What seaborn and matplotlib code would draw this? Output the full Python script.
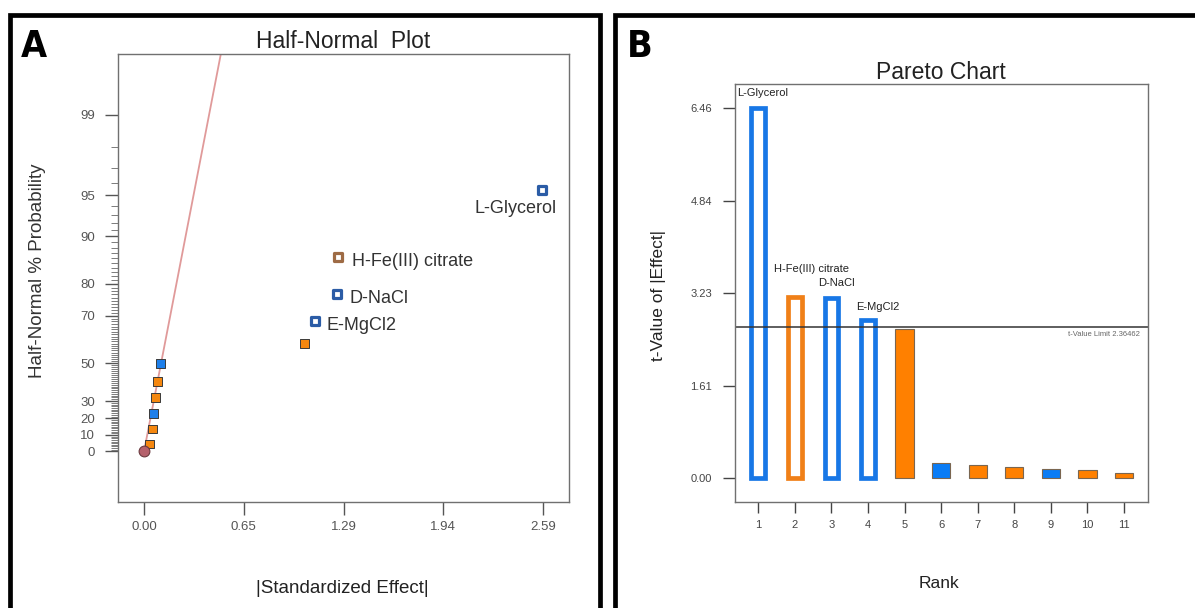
import numpy as np
import pandas as pd
import matplotlib
matplotlib.use("Agg")
import matplotlib.pyplot as plt
from matplotlib.patches import Rectangle
import seaborn as sns
from statistics import NormalDist

# effects listed in Pareto rank order
ranks = ["1", "2", "3", "4", "5", "6", "7", "8", "9", "10", "11"]
term_labels = ["L-Glycerol", "H-Fe(III) citrate", "D-NaCl", "E-MgCl2", "", "", "", "", "", "", ""]
t_values = [6.46, 3.16, 3.15, 2.76, 2.60, 0.27, 0.23, 0.19, 0.17, 0.15, 0.10]
std_effects = [2.583, 1.262, 1.252, 1.108, 1.040, 0.109, 0.089, 0.072, 0.064, 0.055, 0.035]
half_normal_prob = [95.45, 86.36, 77.27, 68.18, 59.09, 50.00, 40.91, 31.82, 22.73, 13.64, 4.55]
effect_sign = ["neg", "pos", "neg", "neg", "pos", "neg", "pos", "pos", "neg", "pos", "pos"]
selected = [True, True, True, True, False, False, False, False, False, False, False]

# error estimate point and fitted line slope
error_effect = [0.0]
error_prob = [0.0]
fit_sigma = 0.164

# axis ticks
hn_yticks = [0, 10, 20, 30, 50, 70, 80, 90, 95, 99]
hn_xticks = [0.0, 0.6475, 1.295, 1.9425, 2.59]
hn_xticklabels = ["0.00", "0.65", "1.29", "1.94", "2.59"]
pareto_yticks = [0.0, 1.615, 3.23, 4.845, 6.46]
pareto_yticklabels = ["0.00", "1.61", "3.23", "4.84", "6.46"]
t_limit_drawn = 2.635
t_limit_label = "t-Value Limit 2.36462"

W, H = 1195, 608

sns.set_theme(style="ticks")
plt.rcParams["font.family"] = ["Liberation Sans", "DejaVu Sans"]

nd = NormalDist()


def p_to_q(p):
    # half-normal probability (%) -> normal quantile
    p = np.clip(np.asarray(p, dtype=float), -99.9999, 99.9999)
    return np.vectorize(lambda v: nd.inv_cdf(0.5 + v / 200.0), otypes=[float])(p)


def q_to_p(q):
    q = np.asarray(q, dtype=float)
    return np.vectorize(lambda v: (2 * nd.cdf(v) - 1) * 100.0, otypes=[float])(q)


def px_axes(left, top, right, bottom):
    return [left / W, 1 - bottom / H, (right - left) / W, (bottom - top) / H]


fig = plt.figure(figsize=(W / 100, H / 100), dpi=100)

# panel frames
fig.patches.append(Rectangle((9.5 / W, -0.05), (600 - 9.5) / W, (H - 14.5) / H + 0.05,
                             transform=fig.transFigure, fill=False, lw=3.4, ec="black"))
fig.patches.append(Rectangle((614.5 / W, -0.05), (W - 614.5 + 20) / W, (H - 14.5) / H + 0.05,
                             transform=fig.transFigure, fill=False, lw=3.4, ec="black"))

for x, letter in [(34, "A"), (640, "B")]:
    fig.text(x / W, 1 - 47 / H, letter, fontsize=27, fontweight="bold", ha="center", va="center",
             family="DejaVu Sans", fontstretch="condensed", color="black")

# ---------------- Half-normal plot ----------------
ax = fig.add_axes(px_axes(118, 54, 569, 502))
ax.set_yscale("function", functions=(p_to_q, q_to_p))

df_hn = pd.DataFrame({"effect": std_effects, "prob": half_normal_prob,
                      "sign": effect_sign, "selected": selected, "label": term_labels})

# fitted line through the origin
q_end = 3.3
ax.plot([0, fit_sigma * q_end], [0, float(q_to_p(q_end))], color="#E09A9A", lw=1.3, zorder=2)

sns.scatterplot(data=df_hn[~df_hn["selected"]], x="effect", y="prob", hue="sign",
                palette={"pos": "#F5870F", "neg": "#1E7FEA"}, marker="s", s=40,
                edgecolor="#3a3a3a", linewidth=0.7, legend=False, ax=ax, zorder=4)
for sign, col in [("pos", "#9E6B45"), ("neg", "#2B5CA6")]:
    sub = df_hn[df_hn["selected"] & (df_hn["sign"] == sign)]
    sns.scatterplot(data=sub, x="effect", y="prob", marker="s", s=32, color="white",
                    edgecolor=col, linewidth=2.3, legend=False, ax=ax, zorder=4)
sns.scatterplot(x=error_effect, y=error_prob, marker="o", s=60, color="#B5616C",
                edgecolor="#6b3a3f", linewidth=0.8, legend=False, ax=ax, zorder=5)

hn_offsets = {"L-Glycerol": (10.8, -13, "right"), "H-Fe(III) citrate": (9.7, -3.6, "left"),
              "D-NaCl": (8.8, -3.6, "left"), "E-MgCl2": (8.2, -3.6, "left")}
for _, r in df_hn[df_hn["label"] != ""].iterrows():
    dx, dy, ha = hn_offsets[r["label"]]
    ax.annotate(r["label"], (r["effect"], r["prob"]), xytext=(dx, dy), textcoords="offset points",
                ha=ha, va="center", fontsize=13, color="#333333")

ax.set_xlim(-0.169, 2.759)
ax.set_ylim(float(q_to_p(-0.387)), float(q_to_p(3.04)))
ax.set_xticks(hn_xticks, labels=hn_xticklabels)
ax.set_yticks(hn_yticks, labels=[str(t) for t in hn_yticks])
ax.set_yticks([v for v in range(1, 100) if v not in hn_yticks], minor=True)
ax.tick_params(axis="both", which="major", direction="out", colors="#555555", labelsize=9.5,
               width=1.0, length=9.4, left=True, bottom=True)
ax.tick_params(axis="x", pad=4)
ax.tick_params(axis="y", pad=7)
ax.tick_params(axis="y", which="minor", direction="out", color="#666666", length=4.8, width=0.6)
for s in ax.spines.values():
    s.set_color("#707070")
    s.set_linewidth(1.0)
ax.set_title("Half-Normal  Plot", fontsize=16.5, pad=4, color="#222222")
ax.set_xlabel("|Standardized Effect|", fontsize=13.5, color="#222222")
ax.set_ylabel("Half-Normal % Probability", fontsize=13.5, color="#333333")
ax.xaxis.set_label_coords(0.498, -0.174)
ax.yaxis.set_label_coords(-0.159, 0.516)

# ---------------- Pareto chart ----------------
ax2 = fig.add_axes(px_axes(735, 84.3, 1147.6, 502.3))
df_p = pd.DataFrame({"rank": ranks, "t": t_values, "sign": effect_sign,
                     "selected": selected, "label": term_labels})

sns.barplot(data=df_p[df_p["selected"]], x="rank", y="t", hue="sign", order=ranks,
            palette={"pos": "#F08018", "neg": "#1877E6"}, fill=False, linewidth=3.4,
            width=0.37, dodge=False, saturation=1, errorbar=None, legend=False, ax=ax2)
sns.barplot(data=df_p[~df_p["selected"]], x="rank", y="t", hue="sign", order=ranks,
            palette={"pos": "#FF8000", "neg": "#0A7CF5"}, width=0.5, dodge=False,
            saturation=1, errorbar=None, legend=False, edgecolor="#7a6650", linewidth=0.8, ax=ax2)

ax2.axhline(t_limit_drawn, color="#333333", lw=1.1, zorder=1)
ax2.annotate(t_limit_label, (0.981, t_limit_drawn), xycoords=("axes fraction", "data"),
             xytext=(0, -5), textcoords="offset points", ha="right", va="center",
             fontsize=5.5, color="#666666")

p_offsets = {"L-Glycerol": (-15.5, 11.2, "left"), "H-Fe(III) citrate": (12.2, 20.5, "center"),
             "D-NaCl": (3.6, 10.8, "center"), "E-MgCl2": (7.2, 9.4, "center")}
for i, r in df_p.iterrows():
    if r["label"] == "":
        continue
    dx, dy, ha = p_offsets[r["label"]]
    ax2.annotate(r["label"], (i, r["t"]), xytext=(dx, dy), textcoords="offset points",
                 ha=ha, va="center", fontsize=8, color="#222222")

ax2.set_xlim(-0.636, 10.645)
ax2.set_ylim(-0.419, 6.876)
ax2.set_xticks(range(len(ranks)), labels=ranks)
ax2.set_yticks(pareto_yticks, labels=pareto_yticklabels)
ax2.tick_params(axis="both", direction="out", colors="#444444", labelsize=8, width=1.0,
                left=True, bottom=True)
ax2.tick_params(axis="x", length=8, pad=4.5)
ax2.tick_params(axis="y", length=8.6, pad=8)
for s in ax2.spines.values():
    s.set_color("#707070")
    s.set_linewidth(1.0)
ax2.set_title("Pareto Chart", fontsize=16.5, pad=4, color="#222222")
ax2.set_xlabel("Rank", fontsize=12.5, color="#222222")
ax2.set_ylabel("t-Value of |Effect|", fontsize=12.5, color="#222222")
ax2.xaxis.set_label_coords(0.494, -0.176)
ax2.yaxis.set_label_coords(-0.167, 0.495)

fig.savefig("out.png", dpi=100)
